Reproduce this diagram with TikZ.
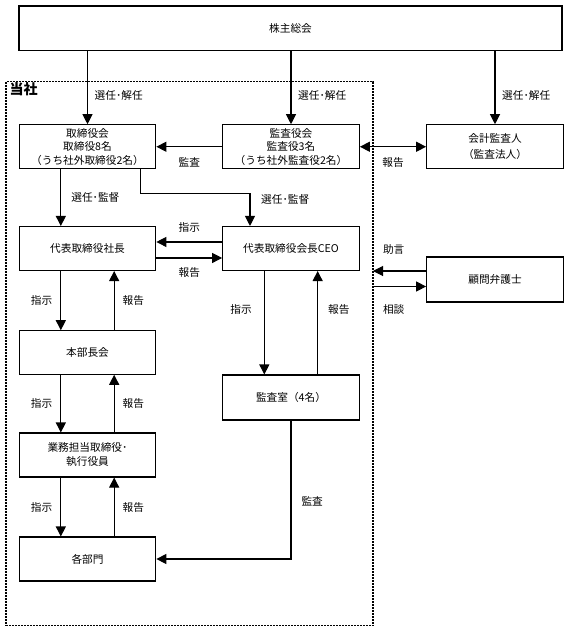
\documentclass[tikz,border=0pt]{standalone}
\usepackage{fontspec}
\setmainfont{Noto Sans CJK JP}
\usetikzlibrary{arrows.meta}

\begin{document}
\begin{tikzpicture}[x=0.75pt, y=-0.75pt, font=\fontsize{8}{10}\selectfont,
                        box/.style={rectangle, draw=black, line width=0.8pt, align=center, inner sep=0pt, minimum width=102.5pt, minimum height=33pt},
                        lbl/.style={inner sep=0pt},
                        arr/.style={line width=0.8pt, -{Triangle[length=7.5pt,width=7.5pt]}},
                        arrboth/.style={line width=0.8pt, {Triangle[length=7.5pt,width=7.5pt]}-{Triangle[length=7.5pt,width=7.5pt]}},
                        company/.style={draw=black, line width=0.8pt, dash pattern=on 1.5pt off 0.75pt, inner sep=0pt, minimum width=275.25pt, minimum height=408pt}]

                        \useasboundingbox (0,0) rectangle (568,632);

                        % Define nodes
                        \node[company] (tosha) at (189.5,353.8) {}; % company frame
                        \node[font=\fontsize{10.5}{12}\selectfont\bfseries, inner sep=0pt, anchor=north west] (toshaname) at ([xshift=3pt,yshift=-1pt]tosha.north west) {当社};
                        \node[box, minimum width=407.25pt, minimum height=33.4pt] (soukai) at (290.5,28.25) {株主総会}; % top
                        \node[box] (torishimari) at (87.5,146.75) {取締役会\\取締役8名\\（うち社外取締役2名）};
                        \node[box] (kansayaku) at (291,146.75) {監査役会\\監査役3名\\（うち社外監査役2名）};
                        \node[box] (kaikei) at (495,146.75) {会計監査人\\[2pt]（監査法人）};
                        \node[box] (shacho) at (87.5,248.5) {代表取締役社長};
                        \node[box] (ceo) at (291,248.5) {代表取締役会長CEO};
                        \node[box, minimum height=33.75pt] (komon) at (495,279.5) {顧問弁護士};
                        \node[box, minimum height=32.6pt] (honbu) at (87.5,352.5) {本部長会};
                        \node[box, minimum height=33.75pt] (kansashitsu) at (291,397.5) {監査室（4名）};
                        \node[box] (gyomu) at (87.5,455) {業務担当取締役･\\[0.5pt]執行役員};
                        \node[box] (kakubu) at (87.5,559) {各部門};
                        \coordinate (jogen) at (373,271); % on the frame
                        \coordinate (sodan) at (373,286.5);

                        % Define edges
                        \path [arr](soukai.south -| torishimari) edge node[lbl, pos=0.61, right=5pt]{選任･解任} (torishimari);
                        \path [arr](soukai.south -| kansayaku) edge node[lbl, pos=0.61, right=5pt]{選任･解任} (kansayaku);
                        \path [arr](soukai.south -| kaikei) edge node[lbl, pos=0.61, right=5pt]{選任･解任} (kaikei);
                        \path [arr](kansayaku) edge node[lbl, below=8pt]{監査} (torishimari);
                        \path [arrboth](kansayaku) edge node[lbl, below=8pt]{報告} (kaikei);
                        \path [arr]([xshift=-20pt]torishimari.south) edge node[lbl, right=7.5pt]{選任･監督} ([xshift=-20pt]shacho.north);
                        \draw [arr]([xshift=40pt]torishimari.south) -- ++(0,24.5) -| node[lbl, pos=0.59, right=8pt]{選任･監督} ([xshift=-30.75pt]ceo.north);
                        \path [arr]([yshift=4.9pt]ceo.west) edge node[lbl, above=6.75pt]{指示} ([yshift=4.9pt]shacho.east);
                        \path [arr]([yshift=-7.1pt]shacho.east) edge node[lbl, below=6.75pt]{報告} ([yshift=-7.1pt]ceo.west);
                        \path [arr](jogen -| komon.west) edge node[lbl, pos=0.61, above=11.8pt]{助言} (jogen);
                        \path [arr](sodan) edge node[lbl, pos=0.39, below=12.8pt]{相談} (sodan -| komon.west);
                        \path [arr]([xshift=-20pt]shacho.south) edge node[lbl, left=6pt]{指示} ([xshift=-20pt]honbu.north);
                        \path [arr]([xshift=20pt]honbu.north) edge node[lbl, right=6pt]{報告} ([xshift=20pt]shacho.south);
                        \path [arr]([xshift=-20pt]honbu.south) edge node[lbl, left=6pt]{指示} ([xshift=-20pt]gyomu.north);
                        \path [arr]([xshift=20pt]gyomu.north) edge node[lbl, right=6pt]{報告} ([xshift=20pt]honbu.south);
                        \path [arr]([xshift=-20pt]gyomu.south) edge node[lbl, left=6pt]{指示} ([xshift=-20pt]kakubu.north);
                        \path [arr]([xshift=20pt]kakubu.north) edge node[lbl, right=6pt]{報告} ([xshift=20pt]gyomu.south);
                        \path [arr]([xshift=-20pt]ceo.south) edge node[lbl, pos=0.37, left=9pt]{指示} ([xshift=-20pt]kansashitsu.north);
                        \path [arr]([xshift=20pt]kansashitsu.north) edge node[lbl, pos=0.63, right=7.5pt]{報告} ([xshift=20pt]ceo.south);
                        \draw [arr](kansashitsu.south) |- node[lbl, pos=0.29, right=7.5pt]{監査} (kakubu.east);
                        \end{tikzpicture}
\end{document}
